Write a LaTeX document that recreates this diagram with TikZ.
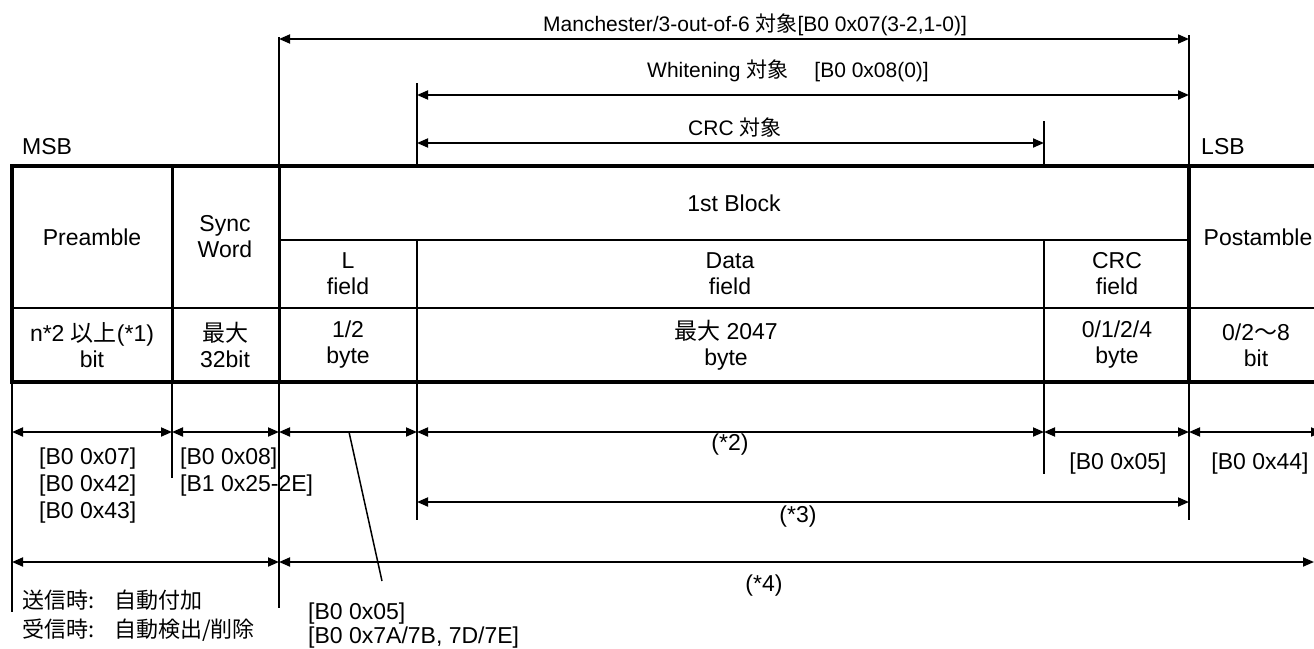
\documentclass[tikz,border=0pt]{standalone}
\usepackage{fontspec}
\setmainfont{Liberation Sans}
\newfontfamily\cjk{Noto Sans CJK JP}
\usetikzlibrary{arrows.meta}
\begin{document}
\begin{tikzpicture}[x=1pt,y=-1pt,
  tx/.style={inner sep=0pt, font=\fontsize{23}{26}\selectfont, align=center},
  lb/.style={inner sep=0pt, font=\fontsize{23}{26}\selectfont, anchor=base west},
  lc/.style={inner sep=0pt, font=\fontsize{23}{26}\selectfont},
  tl/.style={inner sep=0pt, font=\fontsize{21}{25}\selectfont, anchor=base west},
  jp/.style={inner sep=0pt, font=\fontsize{22}{25}\selectfont\cjk, anchor=west},
  dim/.style={line width=1.8pt, {Triangle[length=11pt,width=9pt]}-{Triangle[length=11pt,width=9pt]}},
  ext/.style={line width=1.8pt},
  frameline/.style={line width=4pt},
  major/.style={line width=3pt},
  minor/.style={line width=2pt}]
\useasboundingbox (0,0) rectangle (1314,648);
\clip (0,0) rectangle (1314,648);

% ---------- key coordinates ----------
\coordinate (TL) at (12,166);
\coordinate (BR) at (1334,382);
\coordinate (x172t) at (172,166); \coordinate (x172b) at (172,382);
\coordinate (x279t) at (279,166); \coordinate (x279b) at (279,382);
\coordinate (x417m) at (417,240); \coordinate (x417t) at (417,166); \coordinate (x417b) at (417,382);
\coordinate (x1044m) at (1044,240); \coordinate (x1044t) at (1044,166); \coordinate (x1044b) at (1044,382);
\coordinate (x1189t) at (1189,166); \coordinate (x1189b) at (1189,382);
\coordinate (h240L) at (279,240); \coordinate (h240R) at (1189,240);
\coordinate (h308L) at (12,308); \coordinate (h308R) at (1334,308);
\coordinate (x12b) at (12,382);

% extension line ends
\coordinate (e279u) at (279,37);
\coordinate (e417u) at (417,83);
\coordinate (e1044u) at (1044,121);
\coordinate (e1189u) at (1189,35);
\coordinate (e12d) at (12,612);
\coordinate (e172d) at (172,478);
\coordinate (e279d) at (279,608);
\coordinate (e417d) at (417,520);
\coordinate (e1044d) at (1044,474);
\coordinate (e1189d) at (1189,520);

% dimension arrows ends
\coordinate (mL) at (279,39);  \coordinate (mR) at (1189,39);
\coordinate (wL) at (417,95);  \coordinate (wR) at (1189,95);
\coordinate (cL) at (417,143); \coordinate (cR) at (1044,143);
\coordinate (a0) at (12,432);  \coordinate (a1) at (172,432);
\coordinate (a2) at (279,432); \coordinate (a3) at (417,432);
\coordinate (a4) at (1044,432); \coordinate (a5) at (1189,432);
\coordinate (a6) at (1322,432);
\coordinate (b0) at (417,502); \coordinate (b1) at (1189,502);
\coordinate (d0) at (12,562);  \coordinate (d1) at (279,562);
\coordinate (d2) at (1314,562);
\coordinate (l0) at (349,432); \coordinate (l1) at (382,581);

% ---------- table ----------
\draw[minor] (h240L) -- (h240R);
\draw[minor] (h308L) -- (h308R);
\draw[minor] (x417m) -- (x417b);
\draw[minor] (x1044m) -- (x1044b);
\draw[major] (x172t) -- (x172b);
\draw[major] (x279t) -- (x279b);
\draw[frameline] (x1189t) -- (x1189b);
\draw[frameline] (TL) rectangle (BR);

% ---------- extension lines ----------
\draw[ext] (e279u) -- (x279t);
\draw[ext] (e417u) -- (x417t);
\draw[ext] (e1044u) -- (x1044t);
\draw[ext] (e1189u) -- (x1189t);
\draw[ext] (x12b) -- (e12d);
\draw[ext] (x172b) -- (e172d);
\draw[ext] (x279b) -- (e279d);
\draw[ext] (x417b) -- (e417d);
\draw[ext] (x1044b) -- (e1044d);
\draw[ext] (x1189b) -- (e1189d);

% ---------- dimension arrows ----------
\draw[dim] (mL) -- (mR);
\draw[dim] (wL) -- (wR);
\draw[dim] (cL) -- (cR);
\draw[dim] (a0) -- (a1);
\draw[dim] (a1) -- (a2);
\draw[dim] (a2) -- (a3);
\draw[dim] (a3) -- (a4);
\draw[dim] (a4) -- (a5);
\draw[dim] (a5) -- (a6);
\draw[dim] (b0) -- (b1);
\draw[dim] (d0) -- (d1);
\draw[dim] (d1) -- (d2);
\draw[ext, line width=1.5pt] (l0) -- (l1);

% ---------- top labels ----------
\node[tl] (tman) at (543,31) {Manchester/3-out-of-6 {\cjk 対象}[B0 0x07(3-2,1-0)]};
\node[tl] (twhi) at (647,77) {Whitening {\cjk 対象}\hspace{26pt}[B0 0x08(0)]};
\node[tl] (tcrc) at (688,135) {CRC {\cjk 対象}};
\node[lb] (msb) at (22,154) {MSB};
\node[lb] (lsb) at (1201,154) {LSB};

% ---------- table texts ----------
\node[tx] (pre) at (92,237) {Preamble};
\node[tx] (syn) at (225,237) {Sync\\Word};
\node[tx] (blk) at (734,203) {1st Block};
\node[tx] (lf) at (348,274) {L\\field};
\node[tx] (df) at (730,274) {Data\\field};
\node[tx] (cf) at (1117,274) {CRC\\field};
\node[tx] (post) at (1258,237) {Postamble};
\node[tx] (pre2) at (92,345) {n*2 {\cjk 以上}(*1)\\bit};
\node[tx] (syn2) at (225,345) {{\cjk 最大}\\32bit};
\node[tx] (lf2) at (348,345) {1/2\\byte};
\node[tx] (df2) at (726,345) {{\cjk 最大} 2047\\byte};
\node[tx] (cf2) at (1117,345) {0/1/2/4\\byte};
\node[tx] (post2) at (1256,345) {0/2{\cjk ～}8\\bit};

% ---------- bottom labels ----------
\node[lb] (p1) at (39,464) {[B0 0x07]};
\node[lb] (p2) at (39,491) {[B0 0x42]};
\node[lb] (p3) at (39,518) {[B0 0x43]};
\node[lb] (s1) at (180,464) {[B0 0x08]};
\node[lb] (s2) at (180,491) {[B1 0x25-2E]};
\node[lc] (n2) at (730,445) {(*2)};
\node[lc] (n3) at (798,517) {(*3)};
\node[lc] (n4) at (764,586) {(*4)};
\node[lc] (c05) at (1118,464) {[B0 0x05]};
\node[lc] (p44) at (1260,464) {[B0 0x44]};
\node[lb] (lf3) at (308,619) {[B0 0x05]};
\node[lb] (lf4) at (308,643) {[B0 0x7A/7B, 7D/7E]};
\node[jp] (tx1) at (22,600) {送信時:\hspace{20pt}自動付加};
\node[jp] (tx2) at (22,630) {受信時:\hspace{20pt}自動検出/削除};
\end{tikzpicture}
\end{document}
